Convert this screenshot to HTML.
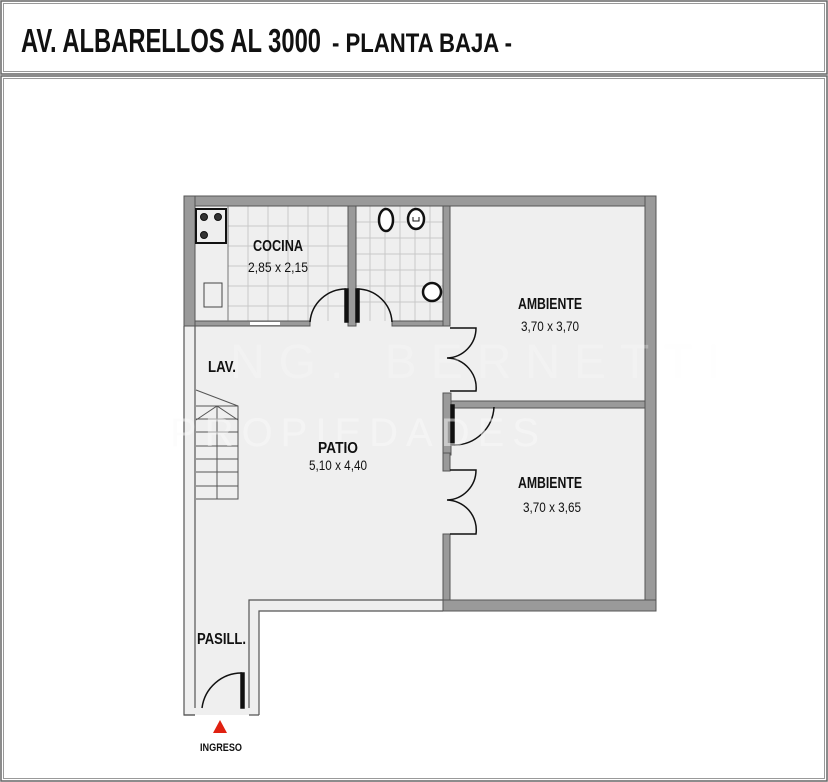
<!DOCTYPE html>
<html><head><meta charset="utf-8"><style>
html,body{margin:0;padding:0;background:#fff;width:828px;height:782px;overflow:hidden}
text{font-family:"Liberation Sans",sans-serif;fill:#111}
</style></head><body>
<svg width="828" height="782" viewBox="0 0 828 782" xmlns="http://www.w3.org/2000/svg">
<!-- frames -->
<rect x="1" y="1" width="826" height="73" fill="none" stroke="#666" stroke-width="1.5"/>
<rect x="3.5" y="3.5" width="821" height="68" fill="none" stroke="#999" stroke-width="1"/>
<rect x="1" y="76" width="826" height="705" fill="none" stroke="#666" stroke-width="1.5"/>
<rect x="3.5" y="78.5" width="821" height="700" fill="none" stroke="#999" stroke-width="1"/>
<text x="21" y="52" font-size="33" font-weight="bold" textLength="300" lengthAdjust="spacingAndGlyphs">AV. ALBARELLOS  AL 3000</text>
<text x="332" y="52" font-size="27" font-weight="bold" textLength="180" lengthAdjust="spacingAndGlyphs">- PLANTA BAJA -</text>

<!-- floor fill -->
<path d="M184 196 H656 V611 H259 V715 H184 Z" fill="#efefef"/>
<!-- tile grids -->
<g stroke="#c8c8c8" stroke-width="1">
<path d="M248 206V321M268 206V321M288 206V321M308 206V321M328 206V321M228 226H348M228 246H348M228 266H348M228 286H348M228 306H348"/>
<path d="M370 206V321M385 206V321M400 206V321M415 206V321M430 206V321M356 222H443M356 238H443M356 254H443M356 270H443M356 286H443M356 302H443"/>
</g>
<!-- walls -->
<g fill="#9a9a9a" stroke="#555" stroke-width="1">
<rect x="184" y="196" width="472" height="10"/>
<rect x="645" y="196" width="11" height="415"/>
<rect x="443" y="600" width="213" height="11"/>
<rect x="184" y="196" width="11" height="130"/>
<rect x="348" y="206" width="8" height="120"/>
<rect x="443" y="206" width="7" height="120"/>
<rect x="450" y="401" width="195" height="7"/>
<rect x="443" y="393" width="8" height="62"/>
<rect x="195" y="321" width="115" height="5"/>
<rect x="392" y="321" width="51" height="5"/>
</g>
<rect x="250" y="322" width="30" height="3" fill="#fff"/>
<!-- wall segments near ambientes doors -->
<g fill="#9a9a9a" stroke="#555" stroke-width="1">
<rect x="443" y="453" width="7" height="18"/>
<rect x="443" y="534" width="7" height="66"/>
</g>
<!-- thin walls -->
<g fill="none" stroke="#555" stroke-width="1.2">
<path d="M184 326V715H195M195 326V708"/>
<path d="M249 708V600H443M259 715V611H443M249 715H259"/>
<path d="M184 715H195"/>
</g>
<!-- kitchen fixtures -->
<path d="M228 206V321" stroke="#777" stroke-width="1"/>
<rect x="196" y="209" width="30" height="34" fill="#eee" stroke="#111" stroke-width="2"/>
<g fill="#333" stroke="#111"><circle cx="204" cy="217" r="3.5"/><circle cx="218" cy="217" r="3.5"/><circle cx="204" cy="235" r="3.5"/></g>
<rect x="204" y="283" width="18" height="24" fill="none" stroke="#444"/>
<!-- bath fixtures -->
<ellipse cx="386" cy="220" rx="7" ry="11" fill="#fff" stroke="#111" stroke-width="2.5"/>
<ellipse cx="416" cy="219" rx="8" ry="10" fill="#fff" stroke="#111" stroke-width="2.5"/>
<path d="M413 217v4h6v-4" stroke="#111" fill="none"/>
<circle cx="432" cy="292" r="9" fill="#fff" stroke="#111" stroke-width="2.5"/>
<!-- doors -->
<g fill="none" stroke="#111" stroke-width="1.5">
<path d="M310 322A36 36 0 0 1 346 289"/><rect x="345" y="289" width="3" height="33" fill="#111"/>
<path d="M392 322A35 35 0 0 0 357 289"/><rect x="356" y="289" width="3" height="33" fill="#111"/>
<path d="M450 328H476A30 30 0 0 1 447 358A30 30 0 0 1 476 391H450"/>
<path d="M450 470H476A30 30 0 0 1 447 500A30 30 0 0 1 476 534H450"/>
<rect x="451" y="405" width="3" height="40" fill="#111"/>
<path d="M494 407A40 40 0 0 1 454 445"/>
<path d="M202 708A40 40 0 0 1 242 673"/><rect x="241" y="673" width="3" height="35" fill="#111"/>
</g>
<!-- stairs -->
<g fill="none" stroke="#555" stroke-width="1">
<path d="M196 390L238 406V499H196M196 406H238M196 419H238M196 432H238M196 446H238M196 459H238M196 472H238M196 486H238M217 406V499M196 420L217 406L238 420"/>
</g>
<!-- watermark -->
<text x="230" y="378" font-size="48" fill="#fff" fill-opacity="0.55" style="fill:#fafafa;opacity:.5" letter-spacing="14">NG. BERNETTI</text>
<text x="170" y="446" font-size="40" style="fill:#fafafa;opacity:.5" letter-spacing="8">PROPIEDADES</text>
<!-- labels -->
<text x="278" y="251" font-size="16" font-weight="bold" text-anchor="middle" textLength="50" lengthAdjust="spacingAndGlyphs">COCINA</text>
<text x="278" y="272" font-size="14" text-anchor="middle" textLength="60" lengthAdjust="spacingAndGlyphs">2,85 x 2,15</text>
<text x="550" y="309" font-size="16" font-weight="bold" text-anchor="middle" textLength="64" lengthAdjust="spacingAndGlyphs">AMBIENTE</text>
<text x="550" y="331" font-size="14" text-anchor="middle" textLength="58" lengthAdjust="spacingAndGlyphs">3,70 x 3,70</text>
<text x="550" y="488" font-size="16" font-weight="bold" text-anchor="middle" textLength="64" lengthAdjust="spacingAndGlyphs">AMBIENTE</text>
<text x="552" y="512" font-size="14" text-anchor="middle" textLength="58" lengthAdjust="spacingAndGlyphs">3,70 x 3,65</text>
<text x="338" y="453" font-size="16" font-weight="bold" text-anchor="middle" textLength="40" lengthAdjust="spacingAndGlyphs">PATIO</text>
<text x="338" y="470" font-size="14" text-anchor="middle" textLength="58" lengthAdjust="spacingAndGlyphs">5,10 x 4,40</text>
<text x="208" y="372" font-size="16" font-weight="bold" textLength="28" lengthAdjust="spacingAndGlyphs">LAV.</text>
<text x="197" y="644" font-size="16" font-weight="bold" textLength="49" lengthAdjust="spacingAndGlyphs">PASILL.</text>
<path d="M213 733L220 720L227 733Z" fill="#e02010"/>
<text x="221" y="751" font-size="11" font-weight="bold" text-anchor="middle" textLength="42" lengthAdjust="spacingAndGlyphs">INGRESO</text>
</svg>
</body></html>
